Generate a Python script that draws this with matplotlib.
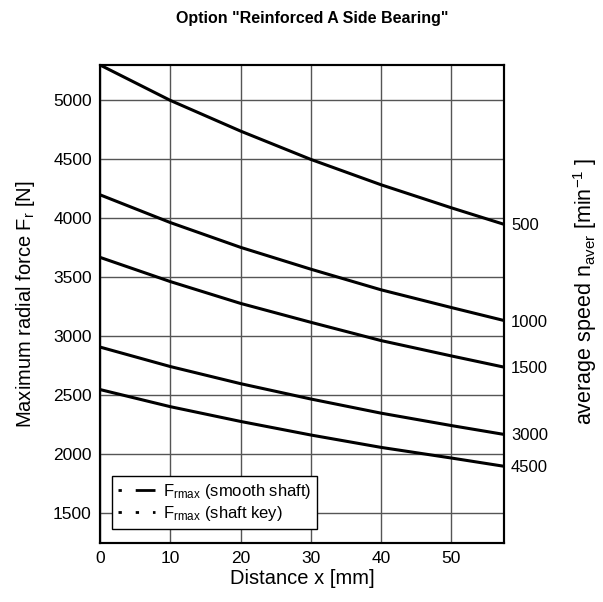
import numpy as np
import matplotlib
matplotlib.use("Agg")
import matplotlib.pyplot as plt
from matplotlib.lines import Line2D
from matplotlib import font_manager

plt.rcParams['font.family'] = ['Liberation Sans', 'DejaVu Sans']
plt.rcParams['mathtext.fontset'] = 'custom'
plt.rcParams['mathtext.rm'] = 'Liberation Sans'
plt.rcParams['mathtext.it'] = 'Liberation Sans:italic'

# distance x [mm]
x_mm = [0, 10, 20, 30, 40, 50, 57.5]

# Frmax curves per average speed [min^-1]
speeds = ["500", "1000", "1500", "3000", "4500"]
f_500 = [5300, 5000, 4740, 4500, 4285, 4090, 3950]
f_1000 = [4200, 3965, 3755, 3570, 3395, 3245, 3135]
f_1500 = [3670, 3465, 3280, 3120, 2965, 2835, 2740]
f_3000 = [2910, 2745, 2600, 2470, 2350, 2245, 2170]
f_4500 = [2550, 2405, 2280, 2165, 2060, 1970, 1900]
curves = [f_500, f_1000, f_1500, f_3000, f_4500]

fig = plt.figure(figsize=(6.03, 6.02), dpi=100)
ax = fig.add_axes([0.166, 0.098, 0.67, 0.794])

for f in curves:
    ax.plot(x_mm, f, color="black", lw=2.2, solid_capstyle="butt")

ax.set_xlim(0, 57.5)
ax.set_ylim(1250, 5300)
ax.set_xticks(np.arange(0, 51, 10))
ax.set_yticks(np.arange(1500, 5001, 500))
ax.grid(True, color="#555555", lw=1)
ax.tick_params(length=0, labelsize=12.5, pad=6)
for s in ax.spines.values():
    s.set_linewidth(1.5)

ax.set_xlabel("Distance x [mm]", fontsize=14.5, labelpad=2)
ax.set_ylabel(r"Maximum radial force F$_{\rm r}$ [N]", fontsize=14.5, va="center")
ax.yaxis.set_label_coords(-0.185, 0.50)

# right axis: speed labels at the end of each curve
ax2 = ax.twinx()
ax2.set_ylim(ax.get_ylim())
ax2.set_yticks([f[-1] for f in curves])
ax2.set_yticklabels(speeds)
ax2.tick_params(length=0, labelsize=12, pad=5)
ax2.set_ylabel(r"average speed n$_{\rm aver}$ [min$^{-1}$ ]", fontsize=15.5, va="center")
ax2.yaxis.set_label_coords(1.2, 0.527)
for s in ax2.spines.values():
    s.set_linewidth(1.5)

handles = [
    Line2D([], [], color="black", lw=2, linestyle=(0, (1.2, 5, 8, 30))),
    Line2D([], [], color="black", lw=2, linestyle=(0, (1.2, 5))),
]
leg = ax.legend(handles, [r"F$_{\rm rmax}$ (smooth shaft)", r"F$_{\rm rmax}$ (shaft key)"],
                loc="upper left", bbox_to_anchor=(0.03, 0.14), borderaxespad=0,
                fancybox=False, edgecolor="black", framealpha=1, fontsize=12,
                handlelength=2.2, handletextpad=0.5, borderpad=0.35, labelspacing=0.2)
leg.get_frame().set_linewidth(1)

names = {f.name for f in font_manager.fontManager.ttflist}
title_font = "Liberation Sans Narrow" if "Liberation Sans Narrow" in names else "Liberation Sans"
title_size = 12.5 if title_font == "Liberation Sans Narrow" else 11.5
fig.text(0.517, 0.97, 'Option "Reinforced A Side Bearing"', ha="center", va="center",
         fontsize=title_size, fontweight="bold", family=title_font)

fig.savefig("out.png", dpi=100)
